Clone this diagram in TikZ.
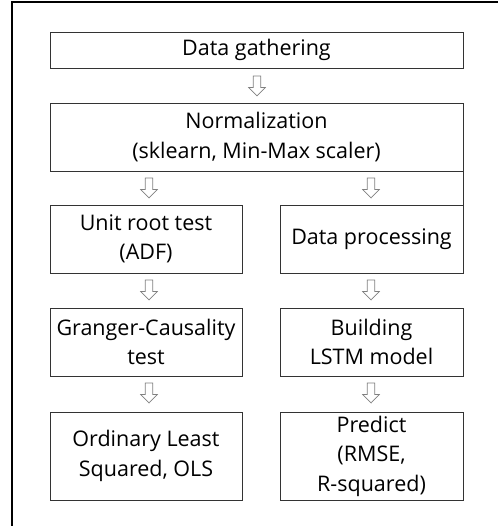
\documentclass[tikz,border=0pt]{standalone}
\usepackage{fontspec}
\setmainfont{Open Sans}
\begin{document}
\begin{tikzpicture}[x=1pt,y=-1pt,
  box/.style={draw=black!80, line width=0.9pt, rectangle, inner sep=0pt, align=center,
    font=\fontsize{21.5}{29.5}\selectfont},
  frame/.style={draw=black, line width=1.3pt},
  harrow/.pic={\draw[black!50, line width=0.7pt, fill=white, line join=miter]
    (-3.8,-10) -- (3.8,-10) -- (3.8,1.5) -- (8.3,1.5) -- (0,10) -- (-8.3,1.5) -- (-3.8,1.5) -- cycle;}]
\useasboundingbox (0,0) rectangle (498,526);
\draw[frame] (12,526) -- (12,2) -- (498,2);
\node[box, minimum width=413pt, minimum height=36pt] (dg) at (256.5,50) {Data gathering};
\node[box, minimum width=413pt, minimum height=68pt] (norm) at (256.5,137) {Normalization\\(sklearn, Min-Max scaler)};
\node[box, minimum width=192pt, minimum height=68pt] (ur) at (146,239) {Unit root test\\(ADF)};
\node[box, minimum width=183pt, minimum height=68pt] (dp) at (371.5,239) {Data processing};
\node[box, minimum width=192pt, minimum height=68pt] (gc) at (146,342) {Granger-Causality\\test};
\node[box, minimum width=183pt, minimum height=68pt] (bl) at (371.5,342) {Building\\LSTM model};
\node[box, minimum width=192pt, minimum height=88pt] (ols) at (146,456) {Ordinary Least\\Squared, OLS};
\node[box, minimum width=183pt, minimum height=88pt] (pr) at (371.5,456) {Predict\\(RMSE,\\R-squared)};
\draw[black!80, line width=0.9pt] (norm.south east) -- (dp.north east);
\coordinate (a1) at (257,86);
\coordinate (a2) at (149,188);
\coordinate (a3) at (371,188);
\coordinate (a4) at (149,290);
\coordinate (a5) at (371,290);
\coordinate (a6) at (149,393);
\coordinate (a7) at (371,393);
\foreach \p in {a1,a2,a3,a4,a5,a6,a7} \pic at (\p) {harrow};
\end{tikzpicture}
\end{document}
